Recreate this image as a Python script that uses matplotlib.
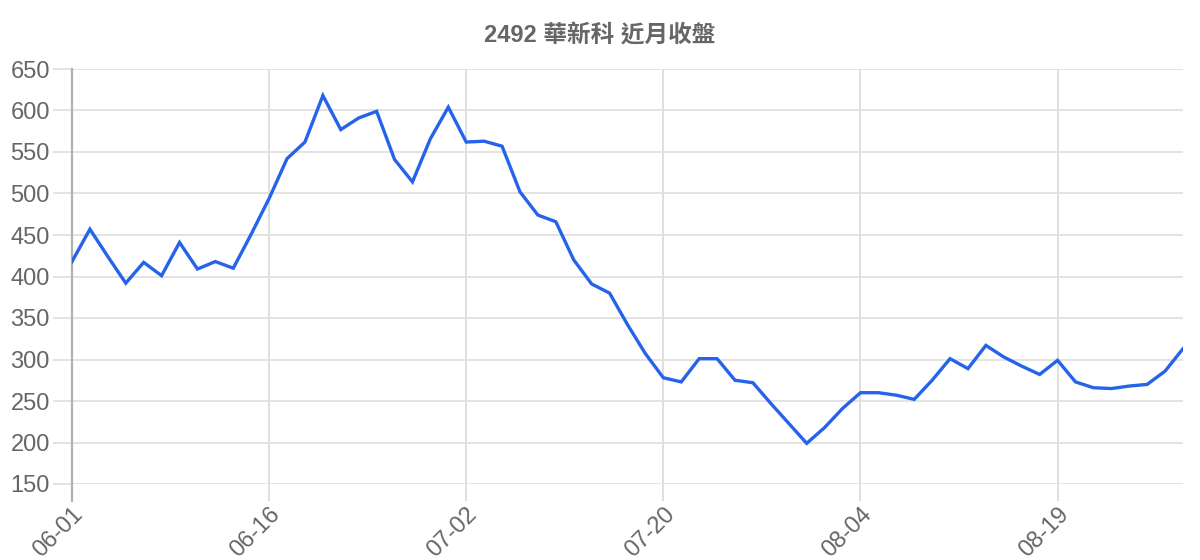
import matplotlib
matplotlib.use("Agg")
import matplotlib.pyplot as plt
from matplotlib.ticker import FixedLocator

plt.rcParams['font.family'] = ['Liberation Sans', 'Noto Sans CJK TC', 'DejaVu Sans']

title = "2492 華新科 近月收盤"

dates = [
    "06-01", "06-02", "06-03", "06-04", "06-05", "06-08", "06-09", "06-10", "06-11", "06-12", "06-15", "06-16",
    "06-17", "06-18", "06-19", "06-20", "06-22", "06-23", "06-24", "06-29", "06-30", "07-01", "07-02",
    "07-03", "07-06", "07-07", "07-08", "07-09", "07-10", "07-13", "07-14", "07-15", "07-16", "07-20",
    "07-21", "07-22", "07-23", "07-24", "07-27", "07-28", "07-29", "07-30", "07-31", "08-03", "08-04",
    "08-05", "08-06", "08-07", "08-10", "08-11", "08-12", "08-13", "08-14", "08-17", "08-18", "08-19",
    "08-20", "08-21", "08-24", "08-25", "08-26", "08-27", "08-28",
]

close = [
    418, 457, 424, 392, 417, 401, 441, 409, 418, 410, 451, 494,
    542, 562, 618, 577, 591, 599, 541, 514, 566, 604, 562,
    563, 557, 502, 474, 466, 420, 391, 380, 342, 307, 278,
    273, 301, 301, 275, 272, 247, 223, 199, 218, 241, 260,
    260, 257, 252, 275, 301, 289, 317, 303, 292, 282, 299,
    273, 266, 265, 268, 270, 286, 313,
]

y_ticks = [150, 200, 250, 300, 350, 400, 450, 500, 550, 600, 650]
label_step = 11

fig = plt.figure(figsize=(12, 5.6), dpi=100)
ax = fig.add_axes([72/1200, 1-484/560, (1183-72)/1200, (484-69)/560])

x = list(range(len(close)))
ax.plot(x, close, color="#2563eb", linewidth=2.4, solid_joinstyle="miter", zorder=3)

ax.set_xlim(0, len(close)-1)
ax.set_ylim(150, 650)

tick_idx = x[::label_step]
ax.xaxis.set_major_locator(FixedLocator(tick_idx))
ax.set_xticklabels([dates[i] for i in tick_idx], rotation=45, ha="right", va="top",
                   rotation_mode="anchor", fontsize=17, color="#666666")
ax.set_yticks(y_ticks)
ax.set_yticklabels([str(v) for v in y_ticks], fontsize=17, color="#666666")

ax.grid(True, axis="y", color="#e0e0e0", linewidth=1.3, zorder=0)
ax.grid(True, axis="x", color="#dcdcdc", linewidth=1.3, zorder=0)

for s in ["top", "right", "bottom"]:
    ax.spines[s].set_visible(False)
ax.spines["left"].set_visible(False)
# left axis line, extending slightly below the plot area like the tick marks
ax.plot([0, 0], [-0.04, 1.0], transform=ax.transAxes, color="#b0b0b0",
        linewidth=1.6, clip_on=False, zorder=2)

ax.tick_params(axis="y", length=14, width=1.3, color="#e0e0e0", pad=2)
ax.tick_params(axis="x", length=12, width=1.3, color="#dcdcdc", pad=2)

fig.text(600/1200, 1-36/560, title, ha="center", va="center", fontsize=17,
         fontweight="bold", color="#666666")

fig.savefig("out.png", dpi=100)
